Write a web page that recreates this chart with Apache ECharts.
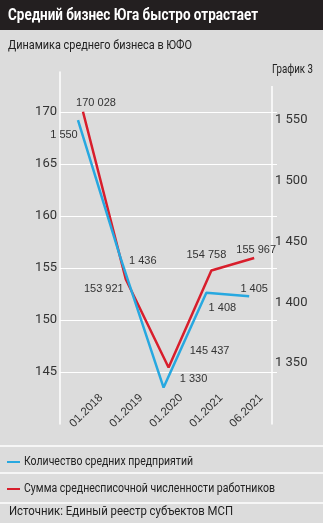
<!DOCTYPE html>
<html>
<head>
<meta charset="utf-8">
<script src="https://cdn.jsdelivr.net/npm/echarts@6/dist/echarts.min.js"></script>
<style>
  html, body { margin: 0; padding: 0; background: #dcdcdc; }
  #chart { width: 323px; height: 523px; }
</style>
</head>
<body>
<div id="chart"></div>
<script>
// Периоды и значения
const categories = ['01.2018', '01.2019', '01.2020', '01.2021', '06.2021'];
const firmsCount = [1550, 1436, 1330, 1408, 1405];              // количество средних предприятий
const staffTotal = [170028, 153921, 145437, 154758, 155967];    // сумма среднесписочной численности
const seriesNames = ['Количество средних предприятий', 'Сумма среднесписочной численности работников'];

// Смещения подписей значений относительно точек (px)
const staffLabelOffsets = [[13, -9], [-22, 10], [41, -16], [-5, -16], [2, -8]];
const firmsLabelOffsets = [[-14, 15], [22, 2], [30, -9], [16, 15], [5, -7]];

const NARROW = "Roboto, 'Liberation Sans', sans-serif";
const PLAIN = "'Liberation Sans', Arial, sans-serif";
const BLUE = '#27a8e0';
const RED = '#d81e2c';
const BG = '#dcdcdc';

const fmt = v => String(v).replace(/\B(?=(\d{3})+(?!\d))/g, ' ');

// Узкий шрифт: сжимаем текст по горизонтали до нужной ширины
const measureCtx = document.createElement('canvas').getContext('2d');
function narrowText(text, x, y, font, width, fill) {
  measureCtx.font = font;
  const w = measureCtx.measureText(text).width;
  return {
    type: 'text', x: x, y: y, scaleX: width / w, scaleY: 1, originX: 0, originY: 0, z: 11,
    style: { text: text, font: font, fill: fill, textVerticalAlign: 'middle', textAlign: 'left' }
  };
}

const chart = echarts.init(document.getElementById('chart'), null, { renderer: 'canvas' });

function pointData(values, offsets) {
  return values.map((v, i) => ({
    value: [i, v],
    label: { offset: offsets[i] }
  }));
}

const valueLabel = {
  show: true,
  position: 'inside',
  color: '#333',
  fontFamily: PLAIN,
  fontSize: 11,
  formatter: p => fmt(p.value[1])
};

const option = {
  backgroundColor: BG,
  animation: false,
  grid: [
    { left: 60, right: 46, top: 72, bottom: 99 },
    { left: 81, width: 200, top: 100, bottom: 131 }
  ],
  xAxis: [
    { type: 'value', gridIndex: 0, min: -0.537, max: 4.533, show: false },
    { type: 'value', gridIndex: 0, min: -0.42, max: 4.65, show: false },
    {
      type: 'category', gridIndex: 1, data: categories, boundaryGap: true,
      axisLine: { show: false }, axisTick: { show: false },
      axisLabel: { rotate: 45, margin: 4, color: '#333', fontFamily: PLAIN, fontSize: 11.5 }
    }
  ],
  yAxis: [
    {
      type: 'value', gridIndex: 0, position: 'left', min: 140000, max: 173846, interval: 5000,
      axisLine: { show: true, onZero: false, lineStyle: { color: '#fff', width: 1.5 } },
      axisTick: { show: false },
      axisLabel: {
        showMinLabel: false, showMaxLabel: false, margin: 3,
        color: '#333', fontFamily: NARROW, fontSize: 13,
        formatter: v => String(v / 1000)
      },
      splitLine: { show: true, showMinLine: false, showMaxLine: false, lineStyle: { color: '#fff', width: 1.2 } }
    },
    {
      type: 'value', gridIndex: 0, position: 'right', offset: -5, min: 1300, max: 1589.5, interval: 50,
      axisLine: { show: true, onZero: false, lineStyle: { color: '#fff', width: 1.5 } },
      axisTick: { show: false },
      axisLabel: {
        showMinLabel: false, showMaxLabel: false, margin: 3,
        color: '#333', fontFamily: NARROW, fontSize: 13,
        formatter: v => fmt(v)
      },
      splitLine: { show: false }
    },
    { type: 'value', gridIndex: 1, show: false }
  ],
  series: [
    {
      name: seriesNames[1], type: 'line', xAxisIndex: 0, yAxisIndex: 0,
      data: pointData(staffTotal, staffLabelOffsets),
      symbol: 'circle', symbolSize: 2,
      itemStyle: { color: 'rgba(0,0,0,0)' },
      lineStyle: { color: RED, width: 2.5 },
      label: valueLabel,
      z: 2
    },
    {
      name: seriesNames[0], type: 'line', xAxisIndex: 1, yAxisIndex: 1,
      data: pointData(firmsCount, firmsLabelOffsets),
      symbol: 'circle', symbolSize: 2,
      itemStyle: { color: 'rgba(0,0,0,0)' },
      lineStyle: { color: BLUE, width: 2.5 },
      label: valueLabel,
      z: 3
    }
  ],
  graphic: [
    { type: 'rect', x: 0, y: 0, shape: { width: 323, height: 30 }, style: { fill: '#231f20' }, z: 10 },
    narrowText('Средний бизнес Юга быстро отрастает', 8, 16, 'bold 17px ' + NARROW, 250, '#fff'),
    narrowText('Динамика среднего бизнеса в ЮФО', 8, 46, '13px ' + NARROW, 184, '#222'),
    // подложка под подписью «График 3»
    { type: 'rect', x: 266, y: 60, shape: { width: 50, height: 26 }, style: { fill: BG }, z: 10 },
    narrowText('График 3', 272, 70, '12.5px ' + NARROW, 41, '#222'),
    { type: 'line', shape: { x1: 0, y1: 446, x2: 323, y2: 446 }, style: { stroke: '#fff', lineWidth: 1.5 }, z: 5 },
    { type: 'line', shape: { x1: 0, y1: 473, x2: 323, y2: 473 }, style: { stroke: '#fff', lineWidth: 1.5 }, z: 5 },
    { type: 'line', shape: { x1: 0, y1: 503, x2: 323, y2: 503 }, style: { stroke: '#fff', lineWidth: 1.5 }, z: 5 },
    // легенда
    { type: 'line', shape: { x1: 7, y1: 462, x2: 20, y2: 462 }, style: { stroke: BLUE, lineWidth: 2 }, z: 11 },
    narrowText(seriesNames[0], 24, 462, '12.5px ' + NARROW, 169, '#222'),
    { type: 'line', shape: { x1: 7, y1: 489, x2: 20, y2: 489 }, style: { stroke: RED, lineWidth: 2 }, z: 11 },
    narrowText(seriesNames[1], 24, 489, '12.5px ' + NARROW, 251, '#222'),
    narrowText('Источник: Единый реестр субъектов МСП', 9, 512, '12.5px ' + NARROW, 224, '#222')
  ]
};

chart.setOption(option);
</script>
</body>
</html>
